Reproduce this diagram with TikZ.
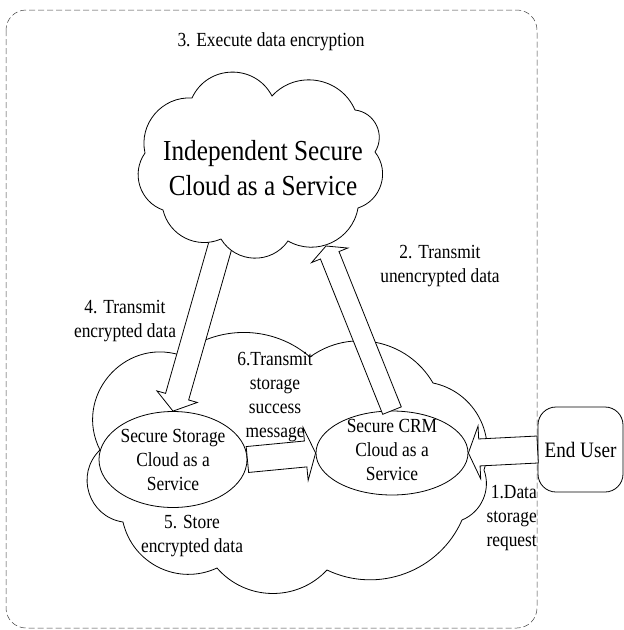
\documentclass[tikz,border=0pt]{standalone}
\usepackage{fontspec}
\setmainfont{Liberation Serif}[FakeStretch=0.87]
\usetikzlibrary{calc,shapes.geometric}
\tikzset{
  outl/.style={draw=black, line width=0.8pt},
  lobe/.style 2 args={bend left=#1, looseness=#2},
  lbl/.style={inner sep=0pt, align=center, font=\fontsize{20}{24}\selectfont},
  bigtxt/.style={inner sep=0pt, align=center, font=\fontsize{29}{35}\selectfont},
  dashbox/.style={draw=black!75, line width=0.5pt, dash pattern=on 6pt off 3pt, rounded corners=20pt},
  ellnode/.style={outl, fill=white, ellipse, inner sep=0pt},
  barrow/.style={outl, fill=white, line join=miter},
  userbox/.style={outl, fill=white, rounded corners=18pt, minimum width=85pt, minimum height=85pt, inner sep=0pt, font=\fontsize{22}{26}\selectfont}
}
% #1 name, #2 tail, #3 tip, #4 half shaft, #5 half head, #6 head length
\newcommand\blockarrow[6]{%
  \coordinate (#1n) at ($(#3)!#6!(#2)$);
  \draw[barrow] ($(#2)!#4!90:(#3)$) -- ($(#1n)!#4!90:(#3)$) -- ($(#1n)!#5!90:(#3)$) -- (#3)
     -- ($(#1n)!#5!-90:(#3)$) -- ($(#1n)!#4!-90:(#3)$) -- ($(#2)!#4!-90:(#3)$) -- cycle;
}
\begin{document}
\begin{tikzpicture}[x=1pt,y=-1pt]
\useasboundingbox (0,0) rectangle (624,630);
\fill[white] (0,0) rectangle (624,630);
\draw[dashbox] (6,10) rectangle (537,628);

% bottom cloud
\coordinate (b1) at (180,355);
\coordinate (b2) at (310,357);
\coordinate (b3) at (433,383);
\coordinate (b4) at (484,470);
\coordinate (b5) at (462,520);
\coordinate (b6) at (327,570);
\coordinate (b7) at (217,568);
\coordinate (b8) at (123,522);
\coordinate (b9) at (100,450);
\draw[outl, fill=white] (b1) to[lobe={40}{0.96}] (b2) to[lobe={48}{1.02}] (b3) to[lobe={48}{1.02}] (b4)
  to[lobe={44}{0.99}] (b5) to[lobe={46}{1.0}] (b6) to[lobe={48}{1.02}] (b7) to[lobe={51}{1.05}] (b8)
  to[lobe={64}{1.18}] (b9) to[lobe={67}{1.22}] (b1) -- cycle;

% ellipses and end user
\node[ellnode, minimum width=148pt, minimum height=96pt] (sto) at (173,459.5) {};
\node[ellnode, minimum width=152pt, minimum height=84pt] (crm) at (392,453) {};
\node[userbox] (eu) at (580.5,449.5) {End User};

% arrow end points on the top cloud
\coordinate (a4s) at (223,236);
\coordinate (a2e) at (326,246);

% block arrows
\blockarrow{aone}{eu.west}{crm.east}{13.5pt}{26.5pt}{11pt}
\blockarrow{asix}{sto.east}{crm.west}{13pt}{26.5pt}{10pt}
\blockarrow{afour}{a4s}{sto.north}{12pt}{21pt}{15pt}
\blockarrow{atwo}{crm.north}{a2e}{10pt}{19.5pt}{10pt}

% top cloud
\coordinate (t1) at (192,98);
\coordinate (t2) at (272,96);
\coordinate (t3) at (355,110);
\coordinate (t4) at (375,152);
\coordinate (t5) at (358,208);
\coordinate (t6) at (288,241);
\coordinate (t7) at (221,239);
\coordinate (t8) at (163,210);
\coordinate (t9) at (145,153);
\draw[outl, fill=white] (t1) to[lobe={64}{1.18}] (t2) to[lobe={57}{1.10}] (t3) to[lobe={58}{1.11}] (t4)
  to[lobe={55}{1.08}] (t5) to[lobe={55}{1.08}] (t6) to[lobe={57}{1.10}] (t7) to[lobe={50}{1.04}] (t8)
  to[lobe={53}{1.06}] (t9) to[lobe={53}{1.06}] (t1) -- cycle;

% texts
\node[lbl] (l3) at (271,42) {3. Execute data encryption};
\node[bigtxt] (topt) at (263,168) {Independent Secure\\Cloud as a Service};
\node[lbl] (l2) at (440,266) {2. Transmit\\unencrypted data};
\node[lbl] (l4) at (125,321) {4. Transmit\\encrypted data};
\node[lbl] (l6) at (275,397) {6.Transmit\\storage\\success\\message};
\node[lbl] (stot) at (sto) {Secure Storage\\Cloud as a\\Service};
\node[lbl] (crmt) at (392,450) {Secure CRM\\Cloud as a\\Service};
\node[lbl] (l5) at (192,536) {5. Store\\encrypted data};
\node[lbl, align=right, anchor=east] (l1) at (537,518) {1.Data\\storage\\request};
\end{tikzpicture}
\end{document}
